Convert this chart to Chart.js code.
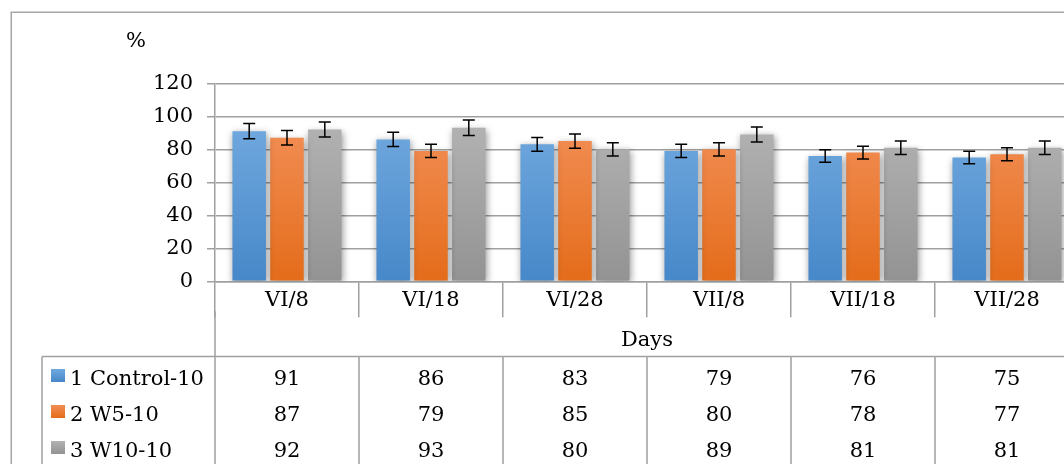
<!DOCTYPE html>
<html>
<head>
<meta charset="utf-8">
<script src="https://cdn.jsdelivr.net/npm/chart.js@4/dist/chart.umd.min.js"></script>
<style>
html, body { margin: 0; padding: 0; overflow: hidden; background: #fff; }
#wrap { width: 1100px; height: 464px; }
</style>
</head>
<body>
<div id="wrap"><canvas id="chart" width="1100" height="464"></canvas></div>
<script>
// data
const days = ['VI/8', 'VI/18', 'VI/28', 'VII/8', 'VII/18', 'VII/28'];
const seriesNames = ['1 Control-10', '2 W5-10', '3 W10-10'];
const control10 = [91, 86, 83, 79, 76, 75];
const w5_10 = [87, 79, 85, 80, 78, 77];
const w10_10 = [92, 93, 80, 89, 81, 81];
// error bar half-lengths (estimated from the whiskers)
const control10Err = [4.6, 4.3, 4.2, 4.0, 3.8, 3.8];
const w5_10Err = [4.4, 4.0, 4.3, 4.0, 3.9, 3.9];
const w10_10Err = [4.6, 4.7, 4.0, 4.5, 4.1, 4.1];
const yTicks = [0, 20, 40, 60, 80, 100, 120];

const lineColor = '#a0a0a0';
const fontFamily = '"DejaVu Serif", "Liberation Serif", serif';
const fontSize = 21;
const colors = [
  ['#70a8de', '#4788c9'],
  ['#f28e55', '#e46c1a'],
  ['#b2b2b2', '#939393']
];

Chart.defaults.font.family = fontFamily;
Chart.defaults.font.size = fontSize;
Chart.defaults.color = '#000';

function gradient(i) {
  return function (context) {
    const chart = context.chart;
    if (!chart.chartArea || !chart.scales.y) return colors[i][1];
    const y = chart.scales.y;
    const g = chart.ctx.createLinearGradient(0, y.getPixelForValue(95), 0, y.getPixelForValue(0));
    g.addColorStop(0, colors[i][0]);
    g.addColorStop(1, colors[i][1]);
    return g;
  };
}

const errors = [control10Err, w5_10Err, w10_10Err];

// soft shadow under the bars
const shadowPlugin = {
  id: 'shadow',
  beforeDatasetsDraw(chart) {
    const ctx = chart.ctx;
    ctx.save();
    ctx.shadowColor = 'rgba(0,0,0,0.4)';
    ctx.shadowBlur = 7;
    ctx.shadowOffsetX = 1;
    ctx.shadowOffsetY = 2;
  },
  afterDatasetsDraw(chart) {
    chart.ctx.restore();
  }
};

const errorBars = {
  id: 'errorBars',
  afterDatasetsDraw(chart) {
    const ctx = chart.ctx;
    const y = chart.scales.y;
    ctx.save();
    ctx.strokeStyle = '#000';
    ctx.lineWidth = 1.5;
    chart.data.datasets.forEach((ds, di) => {
      const meta = chart.getDatasetMeta(di);
      meta.data.forEach((bar, i) => {
        const v = ds.data[i];
        const e = errors[di][i];
        const top = y.getPixelForValue(v + e);
        const bot = y.getPixelForValue(v - e);
        ctx.beginPath();
        ctx.moveTo(bar.x, top); ctx.lineTo(bar.x, bot);
        ctx.moveTo(bar.x - 6, top); ctx.lineTo(bar.x + 6, top);
        ctx.moveTo(bar.x - 6, bot); ctx.lineTo(bar.x + 6, bot);
        ctx.stroke();
      });
    });
    ctx.restore();
  }
};

// outer frame, "%" label, axis title and the data table
const frameAndTable = {
  id: 'frameAndTable',
  beforeDraw(chart) {
    const ctx = chart.ctx;
    ctx.save();
    ctx.strokeStyle = '#a6a6a6';
    ctx.lineWidth = 1.5;
    ctx.strokeRect(11.25, 12.25, chart.width + 50, chart.height + 50);
    ctx.restore();
  },
  afterDraw(chart) {
    const ctx = chart.ctx;
    const x = chart.scales.x;
    const half = (x.getPixelForValue(1) - x.getPixelForValue(0)) / 2;
    const tableTop = 356.5;
    const rows = [control10, w5_10, w10_10];
    const baselines = [384.5, 420.5, 456.5];

    ctx.save();
    ctx.fillStyle = '#000';
    ctx.font = fontSize + 'px ' + fontFamily;
    ctx.textBaseline = 'alphabetic';
    ctx.textAlign = 'left';
    ctx.fillText('%', 126, 47);
    ctx.textAlign = 'center';
    ctx.fillText('Days', (x.left + x.right) / 2, 346);

    ctx.strokeStyle = lineColor;
    ctx.lineWidth = 1.5;
    ctx.beginPath();
    ctx.moveTo(42, tableTop); ctx.lineTo(chart.width, tableTop);
    ctx.moveTo(42, tableTop); ctx.lineTo(42, chart.height);
    ctx.moveTo(x.left, x.top + 30); ctx.lineTo(x.left, chart.height);
    for (let i = 1; i <= days.length; i++) {
      const px = x.getPixelForValue(i) - half;
      ctx.moveTo(px, tableTop); ctx.lineTo(px, chart.height);
    }
    ctx.stroke();

    rows.forEach((row, r) => {
      const b = baselines[r];
      const g = ctx.createLinearGradient(0, b - 15.5, 0, b - 2.5);
      g.addColorStop(0, colors[r][0]);
      g.addColorStop(1, colors[r][1]);
      ctx.fillStyle = g;
      ctx.fillRect(51, b - 15.5, 14, 13);
      ctx.fillStyle = '#000';
      ctx.textAlign = 'left';
      ctx.fillText(seriesNames[r], 70, b);
      ctx.textAlign = 'center';
      row.forEach((v, i) => {
        ctx.fillText(String(v), x.getPixelForValue(i), b);
      });
    });
    ctx.restore();
  }
};

new Chart(document.getElementById('chart'), {
  type: 'bar',
  data: {
    labels: days,
    datasets: [
      { label: seriesNames[0], data: control10, backgroundColor: gradient(0) },
      { label: seriesNames[1], data: w5_10, backgroundColor: gradient(1) },
      { label: seriesNames[2], data: w10_10, backgroundColor: gradient(2) }
    ]
  },
  options: {
    responsive: false,
    animation: false,
    devicePixelRatio: 1,
    categoryPercentage: 0.7875,
    barPercentage: 0.886,
    layout: { padding: { left: 0, right: 21, top: 83.3, bottom: 0 } },
    scales: {
      x: {
        grid: {
          drawOnChartArea: false,
          drawTicks: true,
          tickLength: 36,
          color: lineColor,
          lineWidth: 1.5
        },
        border: { display: true, color: lineColor, width: 1.5 },
        ticks: { padding: -29, font: { size: fontSize } },
        afterFit(scale) { scale.height = 182.7; }
      },
      y: {
        min: 0,
        max: 120,
        afterBuildTicks(scale) { scale.ticks = yTicks.map(v => ({ value: v })); },
        grid: { color: lineColor, lineWidth: 1.5, tickLength: 8 },
        border: { display: true, color: lineColor, width: 1.5 },
        ticks: { padding: 14, font: { size: fontSize } },
        afterFit(scale) { scale.width = 215; }
      }
    },
    plugins: {
      legend: { display: false },
      tooltip: { enabled: false }
    }
  },
  plugins: [shadowPlugin, errorBars, frameAndTable]
});
</script>
</body>
</html>
